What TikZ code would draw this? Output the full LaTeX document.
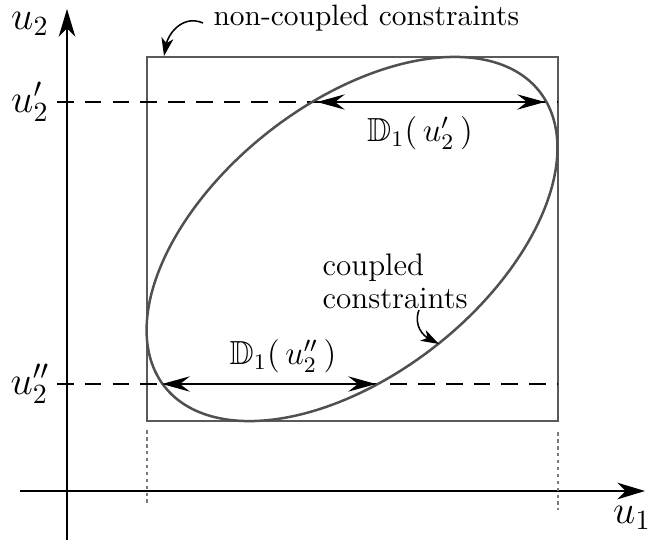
\documentclass[tikz,border=0pt]{standalone}
\usepackage{amssymb}
\usetikzlibrary{arrows.meta}
\definecolor{boxgray}{RGB}{90,90,90}
\definecolor{ellgray}{RGB}{80,80,80}
\begin{document}
\begin{tikzpicture}[x=0.36pt,y=-0.36pt,
  axis/.style={line width=0.5pt,-{Stealth[length=10pt,width=6pt,inset=3pt]}},
  dimarrow/.style={line width=0.45pt,{Stealth[length=10pt,width=5.5pt,inset=3.5pt]}-{Stealth[length=10pt,width=5.5pt,inset=3.5pt]}},
  dashline/.style={line width=0.5pt,dash pattern=on 6pt off 4pt},
  dotline/.style={boxgray!80,line width=0.6pt,dash pattern=on 1.3pt off 1.2pt},
  pointer/.style={line width=0.55pt,-{Stealth[length=6.5pt,width=4.3pt,inset=1.8pt]}},
  lbl/.style={inner sep=0pt}]
\useasboundingbox (0,0) rectangle (651,541);
% axes
\coordinate (xs) at (20,491);
\coordinate (xe) at (645,491);
\coordinate (ys) at (67,540);
\coordinate (ye) at (67,9);
\draw[axis] (xs) -- (xe);
\draw[axis] (ys) -- (ye);
\node[lbl,font=\Large] (u1) at (632,518) {$u_1$};
\node[lbl,font=\Large] (u2) at (30,24) {$u_2$};
% box
\coordinate (b1) at (147,57);
\coordinate (b2) at (558,421);
\draw[boxgray,line width=0.6pt] (b1) rectangle (b2);
% dotted verticals
\coordinate (d1a) at (147,430);
\coordinate (d1b) at (147,505);
\coordinate (d2a) at (558,432);
\coordinate (d2b) at (558,510);
\draw[dotline] (d1a) -- (d1b);
\draw[dotline] (d2a) -- (d2b);
% dashed levels
\node[lbl,font=\Large] (up) at (30,102) {$u_2'$};
\node[lbl,font=\Large] (upp) at (30,384) {$u_2''$};
\coordinate (pa) at (57,102);
\coordinate (pb) at (558,102);
\coordinate (qa) at (57,384);
\coordinate (qb) at (558,384);
\draw[dashline] (pa) -- (pb);
\draw[dashline] (qa) -- (qb);
% ellipse
\draw[ellgray,line width=0.9pt] plot[domain=0:360,samples=120,smooth cycle,variable=\t]
  ({352 + 238.6*cos(\t)*cos(38.2) - 135.8*sin(\t)*sin(38.2)},
   {239 - (238.6*cos(\t)*sin(38.2) + 135.8*sin(\t)*cos(38.2))});
% dimension arrows
\coordinate (ta) at (317,102);
\coordinate (tb) at (545,102);
\coordinate (sa) at (162,384);
\coordinate (sb) at (376,384);
\draw[dimarrow] (ta) -- (tb);
\draw[dimarrow] (sa) -- (sb);
\node[font=\large] (dtop) at (420,133) {$\mathbb{D}_1(\,u_2'\,)$};
\node[font=\large] (dbot) at (283,356) {$\mathbb{D}_1(\,u_2''\,)$};
% annotations
\node[anchor=west,inner sep=0pt,font=\fontsize{10.6}{12}\selectfont] (nc) at (213,18) {non-coupled constraints};
\coordinate (ncs) at (203,23);
\coordinate (nctip) at (164,56);
\draw[pointer] (ncs) .. controls (182,14) and (168,35) .. (nctip);
\node[anchor=west,align=left,inner sep=0pt,font=\fontsize{11.2}{11.8}\selectfont] (cc) at (322,281) {coupled\\constraints};
\coordinate (cctip) at (439,344);
\coordinate (ccs) at (419,310);
\draw[pointer] (ccs) .. controls (413,326) and (424,336) .. (cctip);
\end{tikzpicture}
\end{document}
